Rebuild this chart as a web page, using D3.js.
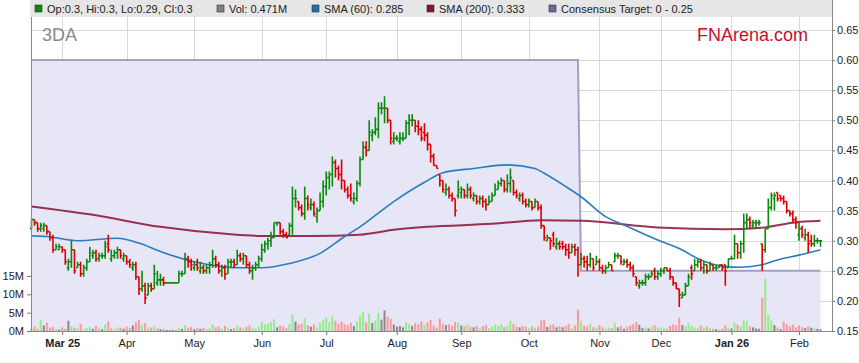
<!DOCTYPE html>
<html>
<head>
<meta charset="utf-8">
<script src="https://cdn.jsdelivr.net/npm/d3@7"></script>
<style>
body { margin: 0; background: #fff; font-family: Arial, "Liberation Sans", sans-serif; }
</style>
</head>
<body>
<div id="chart"></div>
<script>
// trading days shown: weekdays from 17 Feb 2025 to 11 Feb 2026
var firstDay = "2025-02-17";
var lastDay = "2026-02-11";

// daily prices (one entry per trading day)
var opens = [
  .32,.335,.33,.32,.32,.325,.315,.305,.285,.285,
  .29,.285,.255,.265,.285,.255,.26,.245,.255,.265,
  .275,.28,.27,.275,.275,.295,.27,.275,.28,.285,
  .27,.275,.265,.255,.26,.24,.22,.225,.21,.225,
  .22,.23,.235,.235,.23,.23,.23,.23,.23,.245,
  .245,.27,.265,.255,.26,.25,.255,.25,.255,.26,
  .27,.26,.25,.255,.245,.265,.265,.26,.275,.27,
  .275,.26,.25,.255,.26,.27,.285,.295,.30,.305,
  .33,.33,.315,.31,.31,.325,.37,.365,.355,.345,
  .37,.355,.36,.34,.35,.365,.39,.405,.41,.43,
  .42,.41,.40,.385,.375,.365,.37,.395,.435,.455,
  .45,.475,.48,.485,.52,.52,.52,.50,.465,.47,
  .465,.47,.47,.495,.50,.50,.49,.485,.48,.475,
  .46,.44,.425,.41,.40,.38,.385,.375,.37,.375,
  .38,.385,.375,.385,.37,.375,.365,.37,.365,.36,
  .365,.375,.385,.395,.40,.385,.395,.40,.38,.37,
  .375,.365,.36,.365,.355,.365,.355,.325,.30,.305,
  .31,.29,.295,.295,.29,.285,.28,.29,.285,.26,
  .27,.265,.26,.27,.26,.265,.255,.25,.255,.26,
  .265,.275,.275,.26,.265,.26,.255,.24,.225,.23,
  .23,.24,.24,.25,.24,.245,.25,.255,.25,.24,
  .23,.22,.205,.21,.225,.255,.25,.26,.265,.255,
  .26,.25,.26,.255,.255,.26,.26,.255,.27,.27,
  .295,.28,.295,.33,.335,.325,.33,.33,.295,.285,
  .32,.355,.37,.38,.375,.37,.365,.35,.345,.335,
  .31,.32,.305,.31,.30,.295,.30,.30
];
var highs = [
  .335,.335,.33,.33,.33,.325,.315,.31,.295,.295,
  .29,.285,.27,.30,.285,.265,.265,.26,.27,.29,
  .285,.285,.28,.28,.30,.31,.285,.285,.29,.285,
  .28,.275,.27,.265,.265,.24,.25,.23,.23,.23,
  .26,.25,.245,.24,.23,.23,.23,.23,.25,.25,
  .28,.275,.27,.265,.27,.265,.26,.26,.265,.285,
  .275,.265,.26,.26,.27,.27,.27,.285,.28,.28,
  .275,.265,.26,.265,.275,.295,.30,.305,.315,.33,
  .33,.33,.32,.315,.33,.39,.385,.365,.36,.39,
  .375,.37,.365,.355,.38,.40,.415,.415,.44,.435,
  .425,.435,.40,.39,.395,.38,.40,.44,.465,.465,
  .50,.485,.505,.53,.53,.54,.52,.50,.48,.475,
  .48,.48,.50,.51,.51,.50,.50,.49,.495,.48,
  .46,.445,.425,.41,.40,.395,.39,.38,.37,.40,
  .39,.385,.395,.39,.38,.375,.375,.375,.37,.375,
  .38,.395,.40,.405,.40,.41,.42,.40,.385,.38,
  .38,.37,.37,.365,.37,.365,.36,.325,.31,.305,
  .315,.305,.30,.30,.295,.295,.295,.295,.29,.28,
  .275,.275,.28,.27,.275,.27,.26,.26,.265,.26,
  .28,.28,.275,.27,.27,.265,.26,.24,.235,.235,
  .245,.245,.25,.255,.25,.255,.255,.255,.255,.24,
  .23,.22,.215,.23,.245,.26,.27,.27,.27,.265,
  .26,.265,.26,.26,.26,.26,.26,.27,.275,.31,
  .295,.30,.345,.345,.34,.335,.335,.335,.295,.32,
  .37,.38,.38,.38,.375,.375,.365,.35,.35,.34,
  .33,.325,.32,.315,.31,.31,.305,.30
];
var lows = [
  .32,.325,.315,.315,.315,.31,.30,.28,.285,.285,
  .28,.26,.25,.255,.245,.255,.24,.24,.25,.265,
  .27,.265,.265,.27,.27,.28,.265,.27,.27,.27,
  .265,.26,.255,.25,.235,.21,.215,.195,.21,.215,
  .22,.225,.225,.225,.23,.23,.23,.23,.23,.24,
  .245,.255,.25,.25,.25,.245,.245,.245,.245,.255,
  .255,.245,.24,.235,.245,.255,.255,.26,.265,.26,
  .255,.245,.235,.25,.255,.265,.28,.285,.29,.305,
  .325,.31,.305,.305,.31,.31,.355,.35,.34,.335,
  .35,.35,.34,.33,.35,.355,.375,.385,.39,.405,
  .40,.385,.38,.37,.365,.36,.365,.39,.435,.44,
  .45,.465,.475,.47,.51,.495,.495,.46,.46,.465,
  .46,.465,.47,.475,.49,.48,.475,.465,.465,.45,
  .43,.425,.42,.39,.38,.375,.37,.365,.34,.37,
  .37,.37,.37,.37,.365,.36,.36,.355,.35,.36,
  .365,.375,.385,.39,.38,.38,.38,.375,.37,.365,
  .36,.355,.355,.35,.355,.35,.32,.30,.30,.285,
  .29,.285,.285,.285,.275,.27,.28,.275,.24,.26,
  .255,.25,.255,.25,.26,.25,.245,.245,.255,.25,
  .265,.27,.26,.26,.255,.25,.24,.225,.22,.225,
  .225,.235,.24,.235,.235,.24,.245,.25,.235,.225,
  .22,.19,.205,.21,.225,.235,.25,.255,.25,.245,
  .245,.25,.25,.25,.255,.25,.225,.255,.27,.27,
  .27,.27,.28,.32,.32,.32,.32,.325,.25,.28,
  .32,.35,.35,.365,.365,.36,.345,.34,.33,.32,
  .30,.305,.30,.28,.29,.29,.295,.29
];
var closes = [
  .335,.33,.32,.325,.325,.315,.305,.285,.29,.29,
  .285,.265,.265,.285,.25,.26,.245,.255,.265,.28,
  .28,.27,.275,.275,.29,.285,.275,.28,.285,.275,
  .275,.265,.26,.26,.24,.22,.225,.205,.225,.22,
  .245,.235,.235,.23,.23,.23,.23,.23,.245,.245,
  .27,.265,.26,.26,.255,.255,.25,.255,.26,.27,
  .26,.25,.255,.245,.265,.265,.26,.275,.27,.275,
  .26,.25,.255,.26,.27,.285,.295,.30,.305,.33,
  .33,.315,.31,.305,.325,.37,.37,.355,.345,.37,
  .36,.36,.345,.35,.365,.39,.405,.41,.43,.42,
  .41,.40,.385,.375,.37,.37,.395,.435,.455,.45,
  .48,.48,.485,.52,.52,.52,.50,.47,.47,.47,
  .47,.47,.495,.50,.50,.49,.485,.47,.475,.46,
  .44,.425,.42,.40,.385,.385,.375,.37,.35,.385,
  .385,.375,.385,.375,.375,.365,.37,.365,.36,.365,
  .375,.385,.395,.40,.385,.395,.405,.38,.375,.375,
  .365,.36,.365,.355,.365,.355,.325,.305,.305,.30,
  .295,.295,.29,.29,.285,.28,.29,.285,.26,.27,
  .265,.26,.27,.255,.265,.255,.25,.255,.26,.25,
  .275,.275,.265,.265,.26,.255,.245,.23,.23,.23,
  .24,.24,.245,.24,.245,.25,.255,.25,.24,.23,
  .22,.21,.21,.225,.24,.245,.26,.265,.255,.26,
  .25,.26,.255,.255,.26,.255,.25,.27,.27,.295,
  .28,.295,.33,.335,.33,.33,.33,.33,.285,.32,
  .355,.375,.375,.37,.37,.365,.35,.345,.335,.33,
  .32,.31,.31,.295,.295,.30,.30,.30
];

// daily volume, millions
var volumes = [
  0.8,1.2,0.6,3.0,1.5,2.2,0.9,1.1,0.5,0.4,
  1.0,0.6,2.8,1.3,0.9,0.7,2.0,0.5,0.8,1.1,
  0.6,1.4,0.9,0.5,1.8,2.6,0.7,0.4,1.0,0.9,
  0.6,1.2,0.8,1.5,2.4,3.1,1.7,2.2,1.0,0.9,
  1.3,0.7,0.5,0.6,0.3,0.2,0.3,0.2,0.9,0.6,
  1.6,0.9,1.1,0.5,0.8,0.6,0.9,0.5,0.7,1.8,
  1.0,1.2,0.6,1.4,0.9,0.5,0.8,1.5,1.0,0.7,
  1.1,1.6,0.9,0.7,1.2,2.5,1.8,2.0,2.4,3.2,
  1.0,1.5,1.2,0.8,1.9,4.5,2.6,1.8,2.0,3.4,
  1.6,1.2,1.8,1.0,2.2,3.0,3.6,2.4,4.0,2.8,
  2.0,2.6,1.9,1.6,2.2,1.4,2.6,4.2,5.3,2.4,
  4.8,2.2,2.9,5.0,3.1,5.6,4.0,3.3,1.8,1.2,
  1.4,1.0,2.5,2.0,1.4,2.2,1.8,2.6,1.7,2.4,
  3.0,1.5,0.9,3.4,2.0,1.6,1.8,1.4,2.5,2.2,
  1.5,1.3,1.8,1.2,1.0,1.4,0.9,1.3,1.6,0.8,
  1.2,1.7,1.4,1.9,1.1,1.5,2.8,1.9,1.2,1.0,
  1.4,1.2,0.8,1.3,0.9,1.2,2.9,3.0,1.1,1.6,
  1.8,1.0,1.3,1.0,1.4,1.9,0.8,1.5,5.8,2.8,
  1.5,1.2,2.0,1.1,0.9,1.6,1.0,0.7,0.9,0.8,
  2.2,1.0,1.4,0.6,1.1,1.5,1.9,2.4,1.7,0.8,
  1.0,0.7,1.2,1.6,0.9,1.0,0.8,0.6,1.4,1.8,
  1.5,3.6,1.6,1.2,2.2,1.4,1.0,0.8,1.5,0.9,
  1.2,0.8,0.6,0.5,0.4,0.6,1.5,0.9,0.7,2.4,
  1.7,1.2,3.2,2.8,1.3,1.0,0.7,0.6,9.0,14.2,
  4.4,2.8,1.6,0.9,0.5,2.6,1.9,1.3,1.7,1.0,
  1.5,1.1,0.8,1.3,0.9,0.7,0.6,0.47
];

// moving averages read at a few trading days (day number, value)
var sma60Days = [0,5,15,28,35,42,53,62,69,75,84,94,102,107,118,128,134,144,155,164,167,174,179,187,193,204,211,218,226,231,238,243,250,257];
var sma60Values = [.308,.307,.300,.304,.296,.282,.265,.257,.255,.255,.262,.279,.307,.323,.365,.397,.413,.420,.426,.420,.412,.390,.373,.340,.326,.301,.287,.268,.257,.256,.260,.268,.276,.285];
var sma200Days = [0,20,42,64,75,91,107,118,129,150,166,179,204,226,237,248,257];
var sma200Values = [.357,.343,.323,.311,.308,.308,.310,.318,.323,.328,.334,.333,.322,.319,.321,.330,.333];

// consensus target steps
var targetDates = ["2025-02-17", "2025-10-23", "2025-10-24", "2026-02-11"];
var targetValues = [0.60, 0.60, 0.25, 0.25];

// axis labels
var monthLabels = ["Mar 25", "Apr", "May", "Jun", "Jul", "Aug", "Sep", "Oct", "Nov", "Dec", "Jan 26", "Feb"];
var priceTicks = [0.15, 0.20, 0.25, 0.30, 0.35, 0.40, 0.45, 0.50, 0.55, 0.60, 0.65];
var volumeTicks = [0, 5, 10, 15];

var legendItems = [
  {label: "Op:0.3, Hi:0.3, Lo:0.29, Cl:0.3", color: "#0a8a0a", x: 35},
  {label: "Vol: 0.471M", color: "#808080", x: 217},
  {label: "SMA (60): 0.285", color: "#1f6fae", x: 312},
  {label: "SMA (200): 0.333", color: "#8a1034", x: 427},
  {label: "Consensus Target: 0 - 0.25", color: "#6a6a9a", x: 549}
];

// chart parameters
var svgWidth = 859;
var svgHeight = 363;
var margin = {top: 17, right: 27, bottom: 32, left: 31};
var width = svgWidth - margin.left - margin.right;
var height = svgHeight - margin.top - margin.bottom;

var svg = d3.select("#chart")
  .append("svg")
  .attr("width", svgWidth)
  .attr("height", svgHeight)
  .style("font-family", "Arial, 'Liberation Sans', sans-serif");

// trading days
var parse = d3.utcParse("%Y-%m-%d");
var fmt = d3.utcFormat("%Y-%m-%d");
var days = d3.utcDay.range(parse(firstDay), d3.utcDay.offset(parse(lastDay), 1))
  .filter(d => d.getUTCDay() !== 0 && d.getUTCDay() !== 6);
var dayIndex = {};
days.forEach((d, i) => dayIndex[fmt(d)] = i);

var n = closes.length;
var x = d3.scaleLinear().domain([0, n - 1]).range([0.5, 789.5]);
var y = d3.scaleLinear().domain([0.15, 0.65]).range([height, 13]);
var yVol = d3.scaleLinear().domain([0, 15]).range([height, 259]);

// first trading day of each month
var monthIdx = [];
days.forEach((d, i) => {
  if (i > 0 && d.getUTCMonth() !== days[i - 1].getUTCMonth()) monthIdx.push(i);
});

var chart = svg.append("g")
  .attr("transform", `translate(${margin.left}, ${margin.top})`);

// legend band
svg.append("rect")
  .attr("x", 30).attr("y", 0)
  .attr("width", 802).attr("height", 17)
  .attr("fill", "#e6e6e6");

var legend = svg.selectAll(".legend")
  .data(legendItems)
  .enter()
  .append("g");
legend.append("rect")
  .attr("x", d => d.x).attr("y", 5)
  .attr("width", 7).attr("height", 7)
  .attr("fill", d => d.color)
  .attr("stroke", "#333").attr("stroke-width", 0.6);
legend.append("text")
  .attr("x", d => d.x + 12).attr("y", 13)
  .style("font-size", "11px")
  .style("fill", "#222")
  .text(d => d.label);

// grid
chart.append("g")
  .selectAll("line")
  .data(priceTicks)
  .enter()
  .append("line")
  .attr("x1", 0).attr("x2", width)
  .attr("y1", d => Math.round(y(d)) + 0.5).attr("y2", d => Math.round(y(d)) + 0.5)
  .attr("stroke", "#d9d9d9");
chart.append("g")
  .selectAll("line")
  .data(monthIdx)
  .enter()
  .append("line")
  .attr("x1", d => Math.round(x(d)) + 0.5).attr("x2", d => Math.round(x(d)) + 0.5)
  .attr("y1", 0).attr("y2", height)
  .attr("stroke", "#d9d9d9");

// consensus target area
var target = targetDates.map((d, k) => ({i: dayIndex[d], v: targetValues[k]}));
chart.append("path")
  .datum(target)
  .attr("d", d3.area().x(d => x(d.i)).y0(height).y1(d => y(d.v)))
  .attr("fill", "#e6e6f6");
chart.append("path")
  .datum(target)
  .attr("d", d3.line().x(d => x(d.i)).y(d => y(d.v)))
  .attr("fill", "none")
  .attr("stroke", "#8c8cb4")
  .attr("stroke-width", 2)
  .attr("opacity", 0.8);

// volume bars
chart.append("g")
  .selectAll("rect")
  .data(volumes)
  .enter()
  .append("rect")
  .attr("x", (d, i) => x(i) - 1)
  .attr("y", d => yVol(d))
  .attr("width", 2)
  .attr("height", d => height - yVol(d))
  .attr("fill", (d, i) => {
    var prev = i > 0 ? closes[i - 1] : opens[i];
    if (closes[i] > prev) return "#96ec8c";
    if (closes[i] < prev) return "#fb9a9a";
    return "#8a8a8a";
  });

// moving averages
var smaLine = d3.line()
  .x(d => x(d[0]))
  .y(d => y(d[1]))
  .curve(d3.curveMonotoneX);
chart.append("path")
  .datum(d3.zip(sma200Days, sma200Values))
  .attr("d", smaLine)
  .attr("fill", "none")
  .attr("stroke", "#8a1034")
  .attr("stroke-width", 2)
  .attr("opacity", 0.85);
chart.append("path")
  .datum(d3.zip(sma60Days, sma60Values))
  .attr("d", smaLine)
  .attr("fill", "none")
  .attr("stroke", "#2a7cc0")
  .attr("stroke-width", 1.6);

// price bars
chart.append("g")
  .selectAll("path")
  .data(closes)
  .enter()
  .append("path")
  .attr("d", (c, i) => {
    var cx = x(i);
    return "M" + cx + "," + y(highs[i]) + "V" + y(lows[i]) +
      "M" + (cx - 1.6) + "," + y(opens[i]) + "H" + cx +
      "M" + cx + "," + y(c) + "H" + (cx + 1.6);
  })
  .attr("fill", "none")
  .attr("stroke", (c, i) => c >= opens[i] ? "#0a8a0a" : "#dd0000")
  .attr("stroke-width", 1.6);

// axes
var rightAxis = d3.axisRight(y)
  .tickValues(priceTicks)
  .tickFormat(d3.format(".2f"))
  .tickSize(3);
var rightG = chart.append("g")
  .attr("transform", `translate(${width}, 0)`)
  .call(rightAxis);

var leftAxis = d3.axisLeft(yVol)
  .tickValues(volumeTicks)
  .tickFormat(d => d + "M")
  .tickSize(4);
var leftG = chart.append("g")
  .call(leftAxis);

var bottomAxis = d3.axisBottom(x)
  .tickValues(monthIdx)
  .tickFormat((d, k) => monthLabels[k])
  .tickSize(4);
var bottomG = chart.append("g")
  .attr("transform", `translate(0, ${height})`)
  .call(bottomAxis);

[rightG, leftG, bottomG].forEach(g => {
  g.select(".domain").remove();
  g.selectAll("line").attr("stroke", "#777");
  g.selectAll("text")
    .style("font-size", "11px")
    .style("font-family", "Arial, 'Liberation Sans', sans-serif")
    .attr("fill", "#222");
});
rightG.selectAll("text").attr("x", 5);
bottomG.selectAll("text")
  .attr("y", 8)
  .style("font-weight", (d, k) => /\d/.test(monthLabels[k]) ? "bold" : "normal");

// frame lines
chart.append("line")
  .attr("x1", 0.5).attr("x2", 0.5).attr("y1", -17).attr("y2", height)
  .attr("stroke", "#888");
chart.append("line")
  .attr("x1", width + 0.5).attr("x2", width + 0.5).attr("y1", -17).attr("y2", height)
  .attr("stroke", "#888");
chart.append("line")
  .attr("x1", 0).attr("x2", width).attr("y1", height + 0.5).attr("y2", height + 0.5)
  .attr("stroke", "#888");

// titles
svg.append("text")
  .attr("x", 42).attr("y", 41)
  .style("font-size", "18px")
  .style("fill", "#8a8a8a")
  .text("3DA");
svg.append("text")
  .attr("x", 808).attr("y", 41)
  .attr("text-anchor", "end")
  .style("font-size", "18px")
  .style("fill", "#c8102e")
  .text("FNArena.com");
</script>
</body>
</html>
